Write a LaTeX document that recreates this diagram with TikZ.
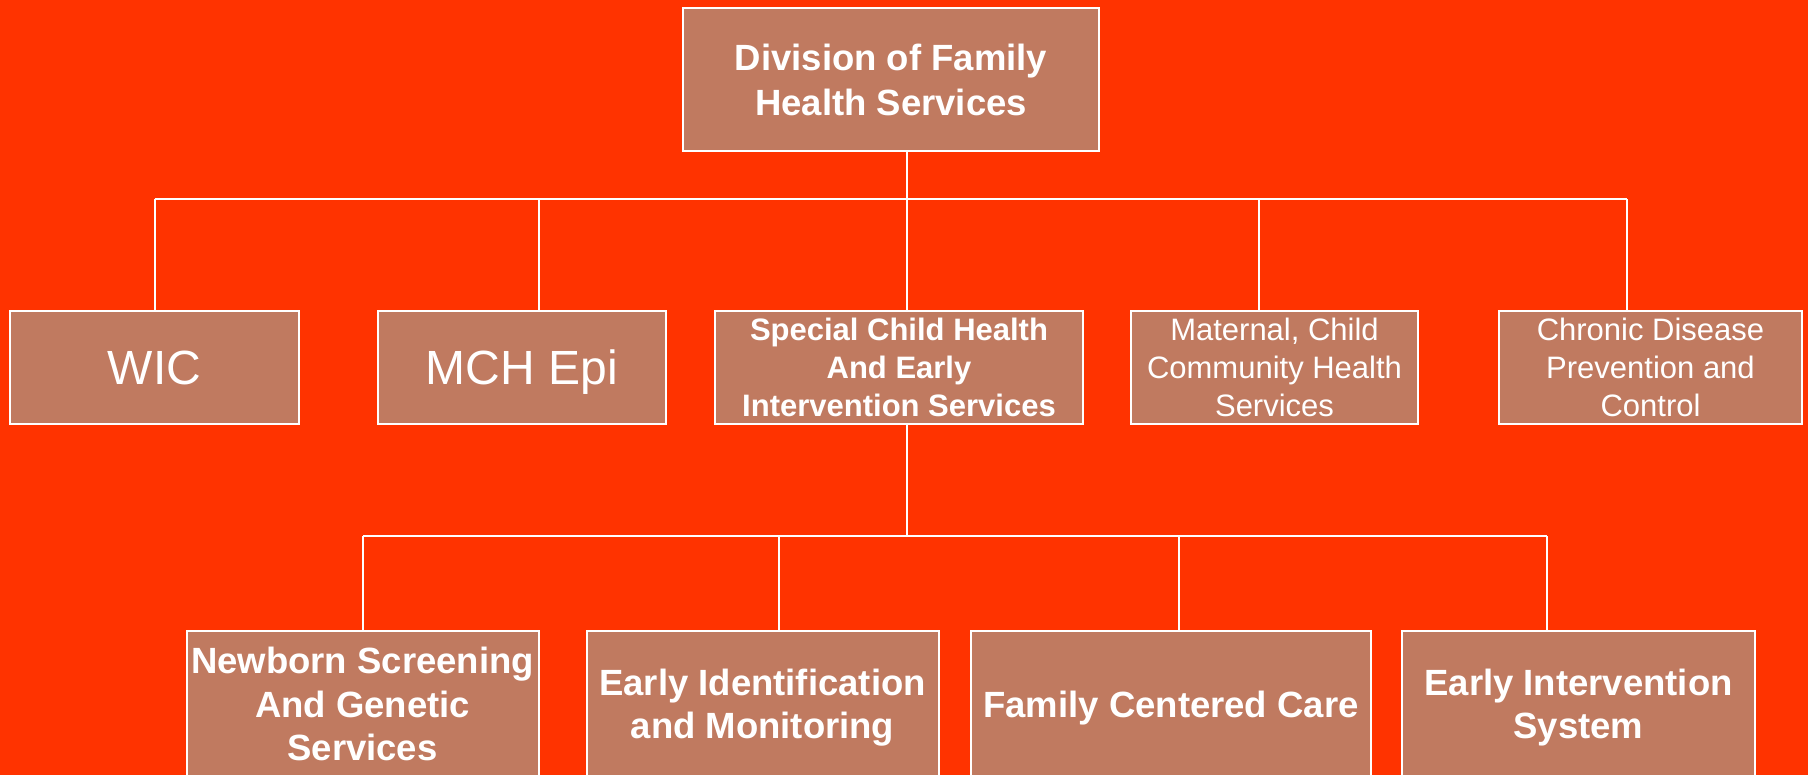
\documentclass[tikz,border=0pt]{standalone}
\usepackage{fontspec}
\setmainfont{Liberation Sans}
\definecolor{bgred}{RGB}{255,51,0}
\definecolor{boxbrown}{RGB}{192,122,96}
\tikzset{
  unit/.style={draw=white, line width=2pt, fill=boxbrown, text=white,
    align=center, inner sep=0pt, text depth=0pt},
  link/.style={draw=white, line width=2pt},
  headfont/.style={font=\fontsize{36.5}{45}\selectfont\bfseries},
  bigfont/.style={font=\fontsize{48}{58}\selectfont},
  midfont/.style={font=\fontsize{31}{38}\selectfont},
  midbold/.style={font=\fontsize{31}{38}\selectfont\bfseries},
  lowfont/.style={font=\fontsize{36.5}{43.5}\selectfont\bfseries},
}

\begin{document}
\begin{tikzpicture}[x=1pt,y=-1pt]
  \fill[bgred] (0,0) rectangle (1808,775);
  \useasboundingbox (0,0) rectangle (1808,775);

  % division
  \node[unit, headfont, minimum width=416pt, minimum height=143pt] (dfhs) at (891,79.5)
    {Division of Family\\Health Services};

  % programs
  \node[unit, bigfont, minimum width=289pt, minimum height=113pt] (wic) at (154.5,367.5) {WIC};
  \node[unit, bigfont, minimum width=288pt, minimum height=113pt] (mchepi) at (522,367.5) {MCH Epi};
  \node[unit, midbold, minimum width=368pt, minimum height=113pt] (scheis) at (899,367.5)
    {Special Child Health\\And Early\\Intervention Services};
  \node[unit, midfont, minimum width=287pt, minimum height=113pt] (mcchs) at (1274.5,367.5)
    {Maternal, Child\\Community Health\\Services};
  \node[unit, midfont, minimum width=303pt, minimum height=113pt] (cdpc) at (1650.5,367.5)
    {Chronic Disease\\Prevention and\\Control};

  % special child health units
  \node[unit, lowfont, minimum width=352pt, minimum height=146pt] (nsgs) at (362.5,704)
    {Newborn Screening\\And Genetic\\Services};
  \node[unit, lowfont, minimum width=352pt, minimum height=146pt] (eiam) at (762.5,704)
    {Early Identification\\and Monitoring};
  \node[unit, lowfont, minimum width=400pt, minimum height=146pt] (fcc) at (1171,704)
    {Family Centered Care};
  \node[unit, lowfont, minimum width=353pt, minimum height=146pt] (eis) at (1578.5,704)
    {Early Intervention\\System};

  \coordinate (bus1) at (907,199.5);
  \coordinate (d1) at (154.5,199.5);
  \coordinate (d2) at (538.5,199.5);
  \coordinate (d4) at (1259,199.5);
  \coordinate (d5) at (1627,199.5);
  \draw[link] (dfhs.south -| bus1) -- (bus1);
  \draw[link] (d1) -- (d5);
  \foreach \d/\n in {d1/wic, d2/mchepi, bus1/scheis, d4/mcchs, d5/cdpc}
    \draw[link] (\d) -- (\d |- \n.north);

  \coordinate (bus2) at (907,536);
  \coordinate (e1) at (363,536);
  \coordinate (e2) at (779,536);
  \coordinate (e3) at (1179,536);
  \coordinate (e4) at (1546.5,536);
  \draw[link] (scheis.south -| bus2) -- (bus2);
  \draw[link] (e1) -- (e4);
  \foreach \d/\n in {e1/nsgs, e2/eiam, e3/fcc, e4/eis}
    \draw[link] (\d) -- (\d |- \n.north);
\end{tikzpicture}
\end{document}
